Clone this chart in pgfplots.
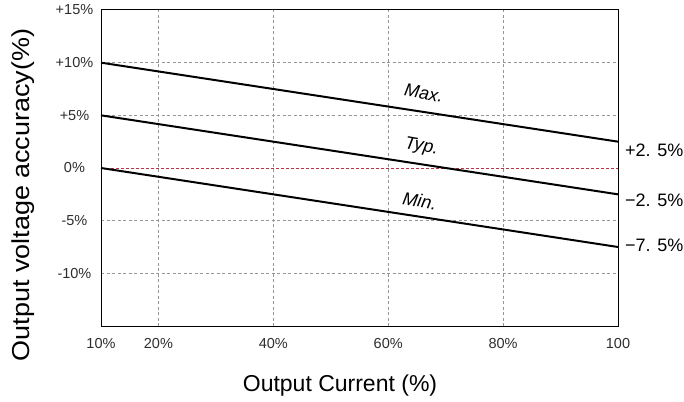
\documentclass[border=0pt]{standalone}
\usepackage{pgfplots}
\pgfplotsset{compat=1.18}
\usepackage{fontspec}
\setmainfont{Liberation Sans}
\usepackage{graphicx}
\definecolor{gridgray}{RGB}{150,150,150}
\definecolor{zerored}{RGB}{190,50,70}
\definecolor{ticktext}{RGB}{45,45,45}
\begin{document}
\begin{tikzpicture}
\begin{axis}[
  name=ax,
  scale only axis,
  width=517pt, height=316pt,
  xmin=10, xmax=100, ymin=-15, ymax=15,
  xtick={20,40,60,80},
  xticklabels={20\%,40\%,60\%,80\%},
  extra x ticks={10,100},
  extra x tick labels={10\%,100},
  ytick={-10,-5,5,10},
  yticklabels={-10\%,-5\%,+5\%,+10\%},
  extra y ticks={0,15},
  extra y tick labels={0\%,+15\%},
  extra tick style={grid=none},
  major tick length=0pt,
  grid=major,
  grid style={gridgray, line width=0.7pt, dash pattern=on 3pt off 2.5pt},
  axis line style={black, line width=1pt},
  tick label style={font=\fontsize{14.5}{16}\selectfont, text=ticktext},
  /pgf/number format/assume math mode=true,
  yticklabel style={text width=38pt, align=center, xshift=-4pt},
  xticklabel style={yshift=-9pt},
  xlabel={Output Current (\%)},
  ylabel={\scalebox{1.1}[1]{Output voltage accuracy(\%)}},
  xlabel style={font=\fontsize{23}{26}\selectfont, at={(axis description cs:0.4623,-0.19)}, anchor=center},
  ylabel style={font=\fontsize{24.5}{28}\selectfont, at={(axis description cs:-0.15,0.4146)}, anchor=center},
  clip=false,
]
\addplot[zerored, line width=0.8pt, dash pattern=on 3pt off 2pt] coordinates {(10,0) (100,0)};
\addplot[black, line width=2pt] coordinates {(10,10) (100,2.5)};
\addplot[black, line width=2pt] coordinates {(10,5) (100,-2.5)};
\addplot[black, line width=2pt] coordinates {(10,0) (100,-7.5)};
\node[font=\fontsize{18}{20}\selectfont\itshape, rotate=-10, inner sep=1pt] at (axis cs:66.2,7.1) {Max.};
\node[font=\fontsize{18}{20}\selectfont\itshape, rotate=-10, inner sep=1pt] at (axis cs:65.8,2.0) {Typ.};
\node[font=\fontsize{18}{20}\selectfont\itshape, rotate=-10, inner sep=1pt] at (axis cs:65.5,-3.1) {Min.};
\node[font=\fontsize{18}{20}\selectfont, anchor=west, inner sep=0pt] at ([xshift=7pt]axis cs:100,1.71) {+2. 5\%};
\node[font=\fontsize{18}{20}\selectfont, anchor=west, inner sep=0pt] at ([xshift=7pt]axis cs:100,-3.05) {−2. 5\%};
\node[font=\fontsize{18}{20}\selectfont, anchor=west, inner sep=0pt] at ([xshift=7pt]axis cs:100,-7.33) {−7. 5\%};
\end{axis}
\path (ax.south west) +(-101pt,-75pt);
\path (ax.north east) +(66pt,10pt);
\end{tikzpicture}
\end{document}
